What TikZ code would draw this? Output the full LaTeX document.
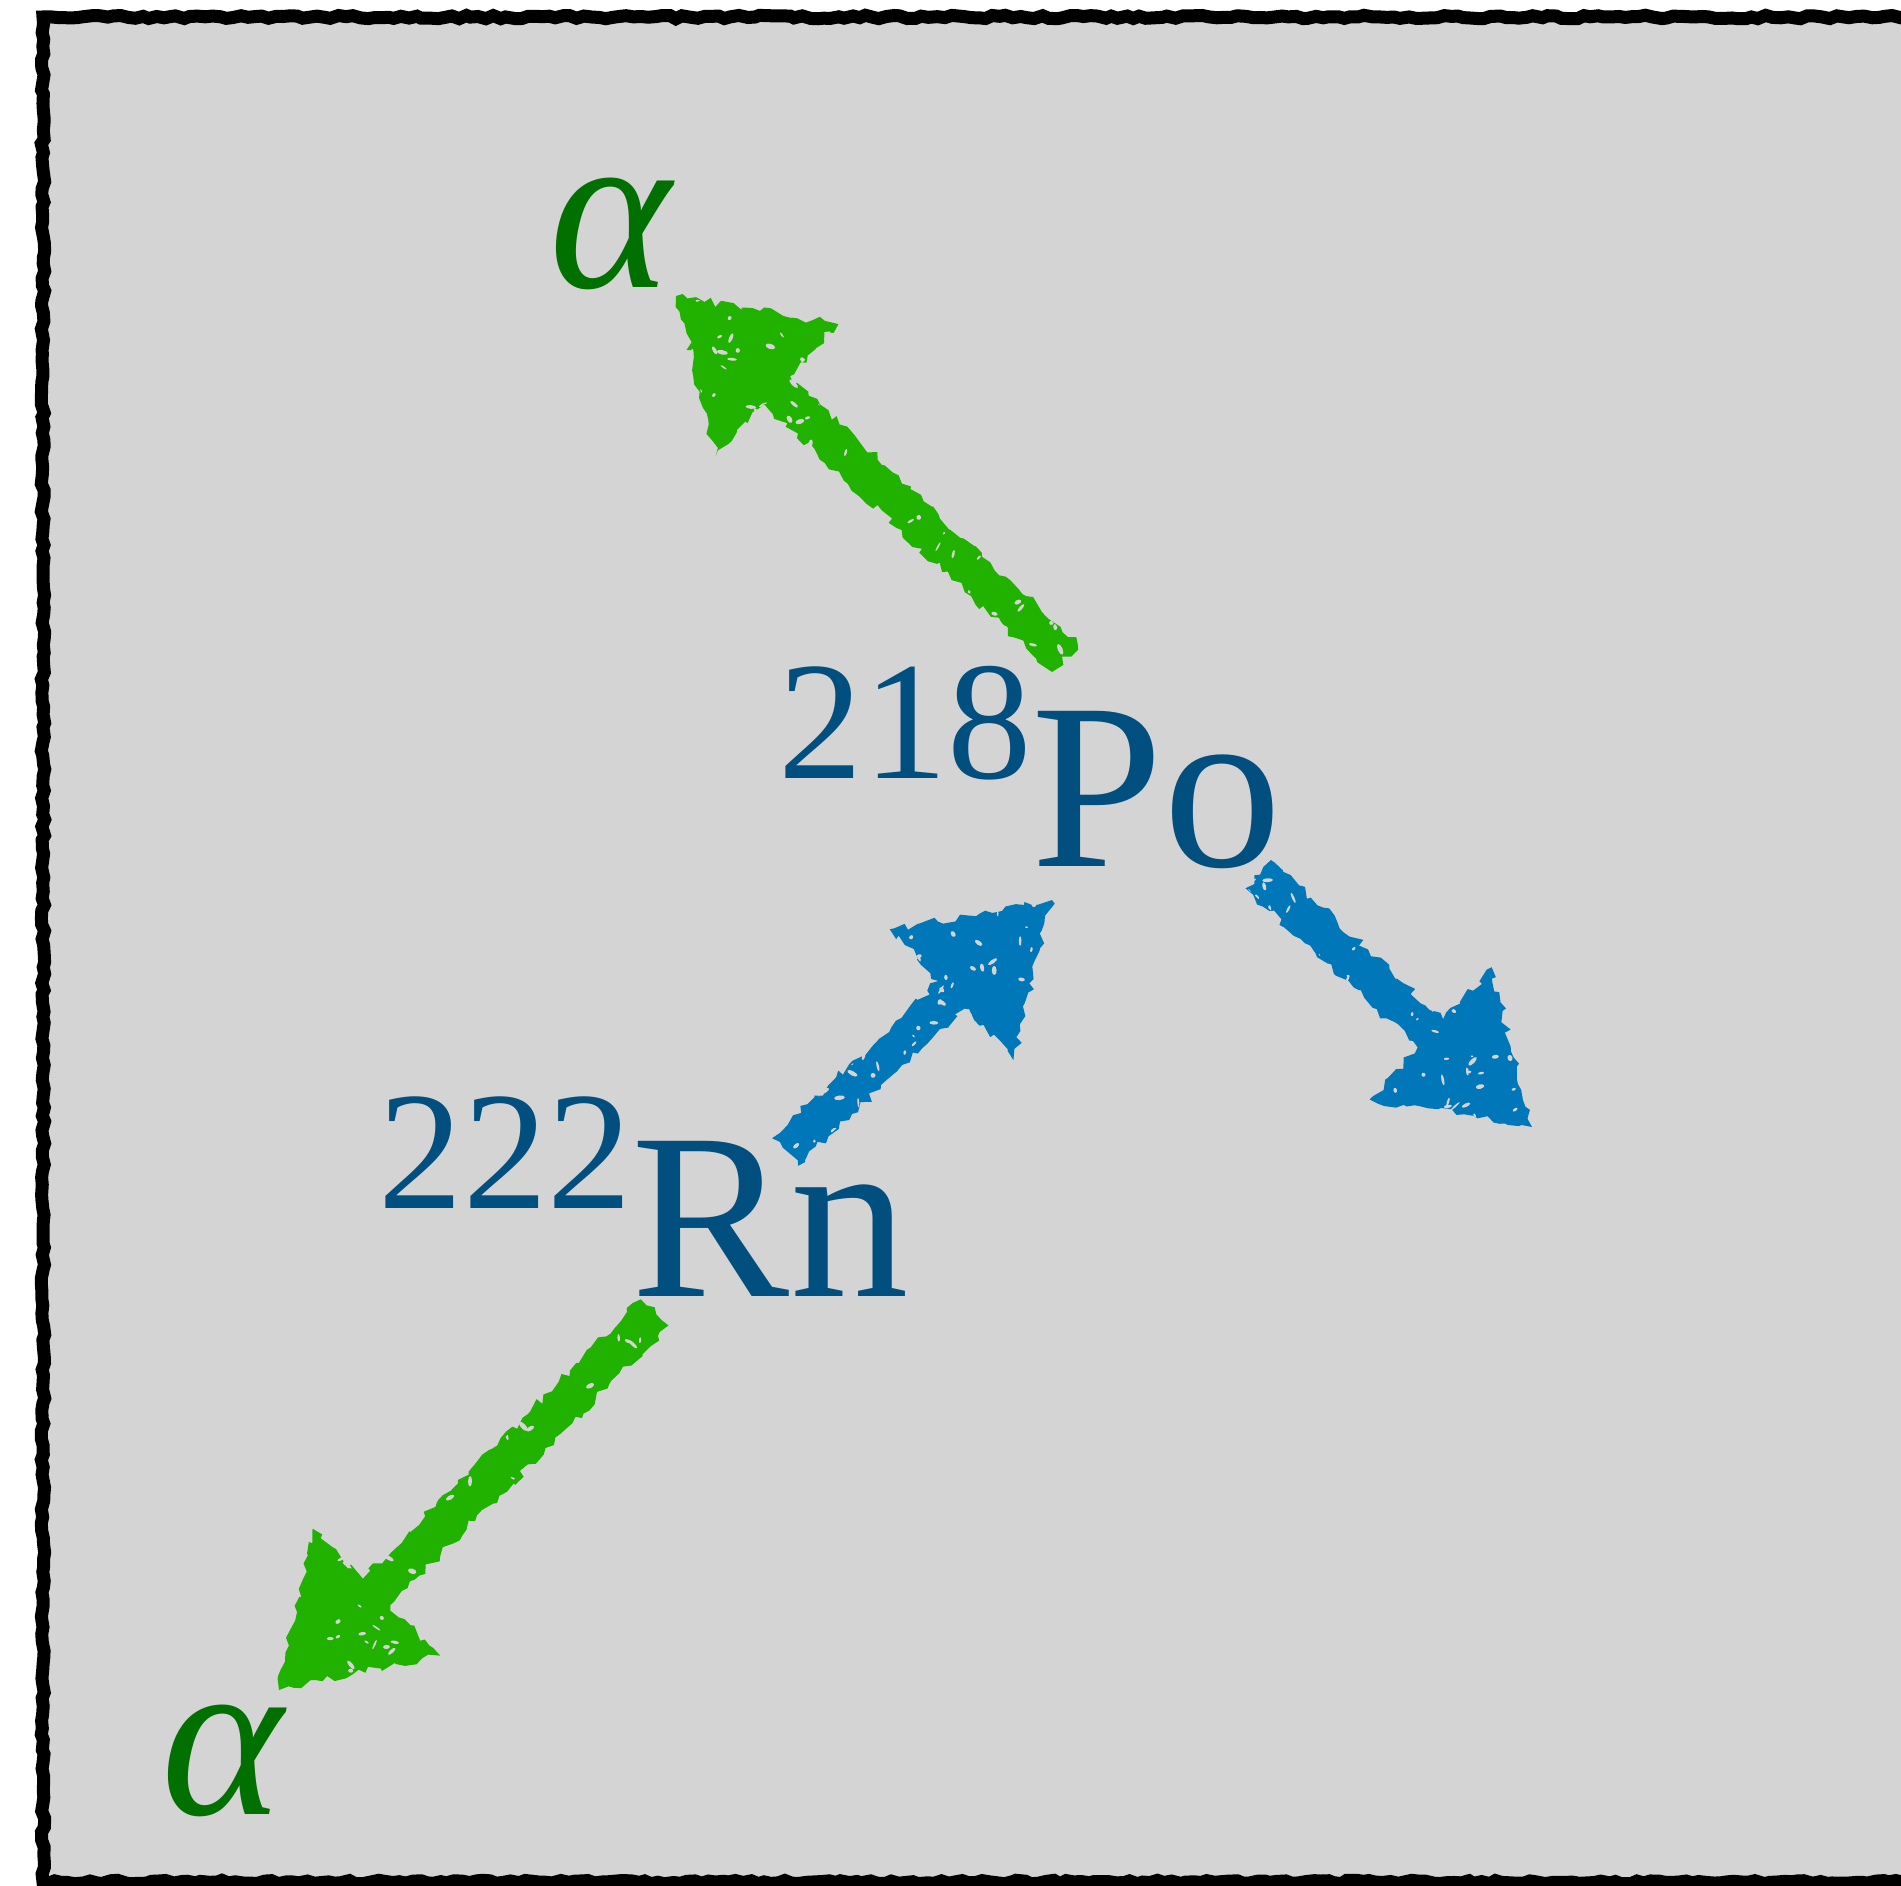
\documentclass[tikz,border=0pt]{standalone}
\usepackage{fontspec}
\setmainfont{Liberation Serif}
\usetikzlibrary{calc,decorations.pathmorphing}
\definecolor{bggray}{HTML}{D4D4D4}
\definecolor{crayongreen}{HTML}{21B200}
\definecolor{crayonblue}{HTML}{0077B9}
\definecolor{nuclideblue}{HTML}{004F7F}
\definecolor{alphagreen}{HTML}{007000}
\tikzset{
  frame/.style={draw=black, fill=bggray, line width=0.13cm,
    decorate, decoration={random steps, segment length=2pt, amplitude=0.5pt}},
  nuclide/.style={text=nuclideblue, inner sep=0pt, anchor=base west},
  alphalabel/.style={text=alphagreen, inner sep=0pt, anchor=center,
    font=\fontsize{66}{70}\selectfont\itshape},
  crayon/.style={fill=#1, decorate,
    decoration={random steps, segment length=2pt, amplitude=1.2pt}},
}
\newcommand{\crayonarrow}[3]{%
  \coordinate (cb) at ($(#2)!1.38cm!(#1)$);
  \fill[crayon=#3]
    ($(#1)!0.19cm!90:(#2)$) -- ($(cb)!0.19cm!90:(#2)$) -- ($(cb)!0.9cm!90:(#2)$)
    -- (#2) -- ($(cb)!0.9cm!-90:(#2)$) -- ($(cb)!0.19cm!-90:(#2)$)
    -- ($(#1)!0.19cm!-90:(#2)$) -- cycle;
  \begin{scope}
    \clip ($(#1)!0.18cm!90:(#2)$) -- ($(cb)!0.18cm!90:(#2)$) -- ($(cb)!0.88cm!90:(#2)$)
      -- (#2) -- ($(cb)!0.88cm!-90:(#2)$) -- ($(cb)!0.18cm!-90:(#2)$)
      -- ($(#1)!0.18cm!-90:(#2)$) -- cycle;
    \foreach \k in {1,...,90} {
      \pgfmathsetmacro\tpos{rnd}
      \pgfmathsetmacro\opos{(rnd-0.5)*1.6}
      \pgfmathsetmacro\rxa{0.015+0.045*rnd}
      \pgfmathsetmacro\rya{0.008+0.018*rnd}
      \pgfmathsetmacro\ang{rnd*180}
      \fill[bggray, rotate around={\ang:($($(#1)!\tpos!(#2)$)!\opos cm!90:(#2)$)}]
        ($($(#1)!\tpos!(#2)$)!\opos cm!90:(#2)$)
        ellipse[x radius=\rxa cm, y radius=\rya cm];
    }
  \end{scope}
}
\begin{document}
\begin{tikzpicture}[x=0.01cm, y=-0.01cm]
\pgfmathsetseed{11}
\useasboundingbox (0,0) rectangle (1901,1885);
\clip (0,0) rectangle (1901,1885);
\path[frame] (43,17) -- (1960,17) -- (1960,1882) -- (43,1882) -- cycle;

\node[nuclide] (po) at (778,866)
  {{\fontsize{48}{50}\selectfont\raisebox{0.87cm}{218}}{\fontsize{67.4}{70}\selectfont Po}};
\node[nuclide] (rn) at (378,1296)
  {{\fontsize{48}{50}\selectfont\raisebox{0.87cm}{222}}{\fontsize{67.4}{70}\selectfont Rn}};
\node[alphalabel] (atop) at (610,234) {α};
\node[alphalabel] (abot) at (222,1761) {α};

\coordinate (g1tail) at (1065,658);
\coordinate (g1tip) at (676,296);
\coordinate (b1tail) at (785,1152);
\coordinate (b1tip) at (1052,900);
\coordinate (b2tail) at (1258,874);
\coordinate (b2tip) at (1532,1127);
\coordinate (g2tail) at (655,1312);
\coordinate (g2tip) at (279,1690);

\crayonarrow{g1tail}{g1tip}{crayongreen}
\crayonarrow{b1tail}{b1tip}{crayonblue}
\crayonarrow{b2tail}{b2tip}{crayonblue}
\crayonarrow{g2tail}{g2tip}{crayongreen}
\end{tikzpicture}
\end{document}
